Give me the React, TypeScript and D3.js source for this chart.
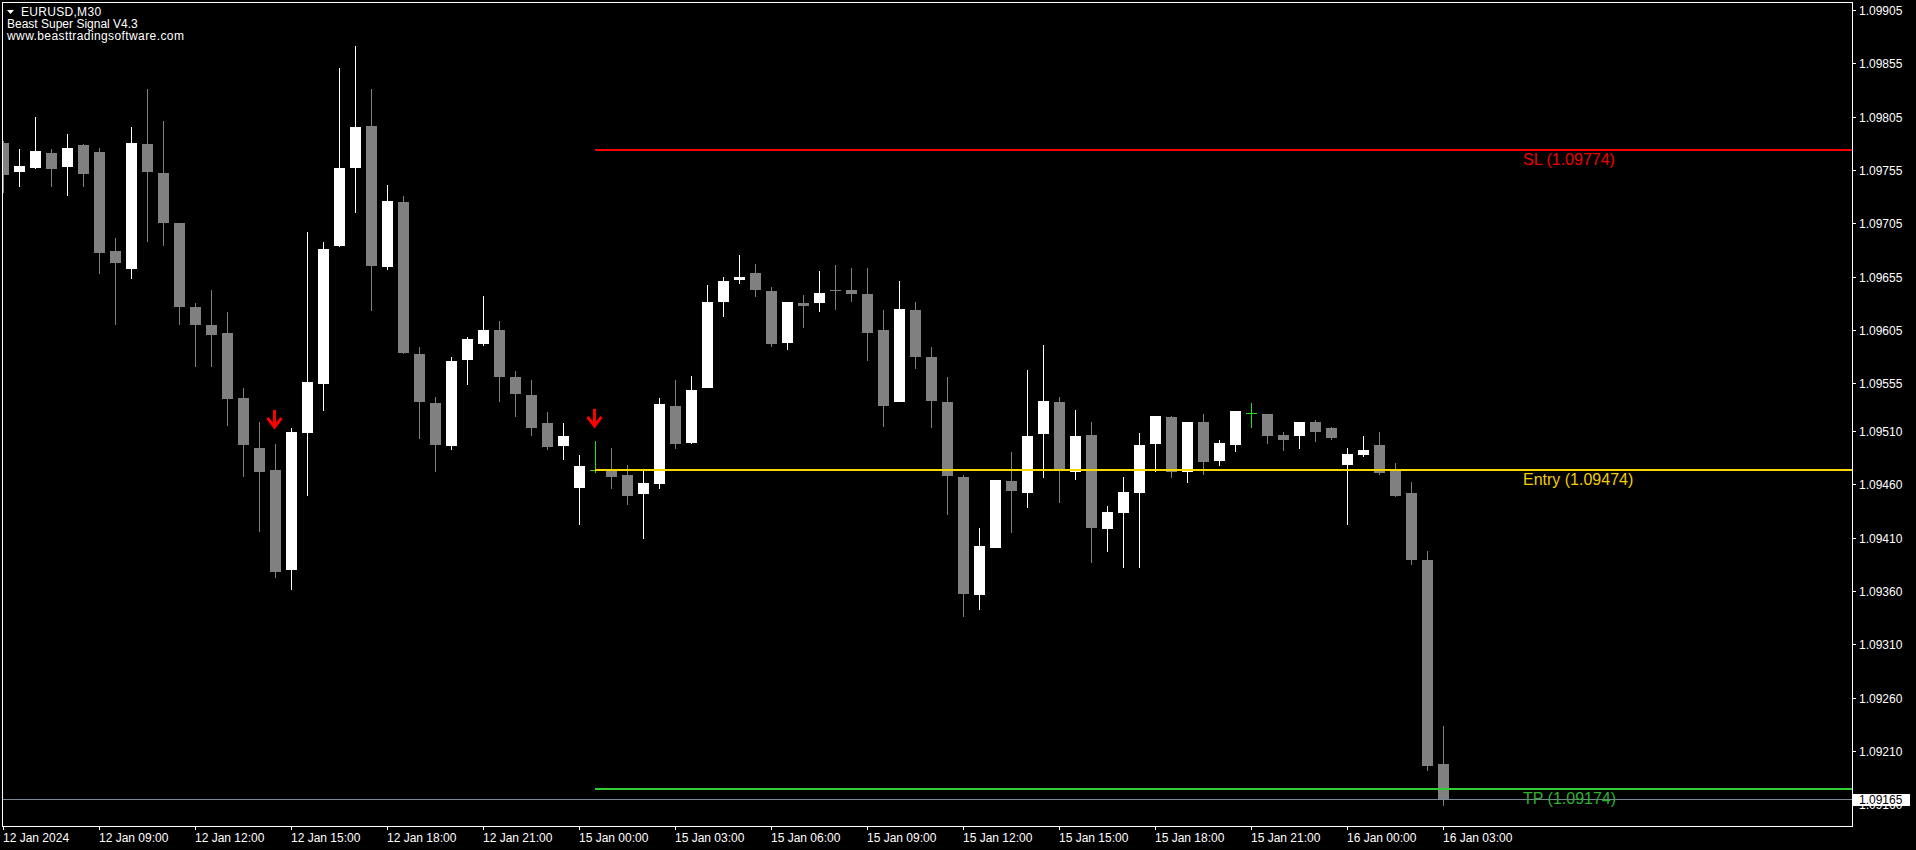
import * as d3 from "d3"

const W = 1916
const H = 850

// OHLC, M30 bars from 12 Jan 06:00 to 16 Jan 03:00
const opens = [
  1.09780, 1.09753, 1.09757, 1.09771, 1.09758, 1.09778, 1.09772, 1.09679, 1.09662, 1.09779,
  1.09752, 1.09705, 1.09626, 1.09610, 1.09602, 1.09541, 1.09494, 1.09474, 1.09380, 1.09508,
  1.09554, 1.09684, 1.09757, 1.09796, 1.09664, 1.09725, 1.09582, 1.09536, 1.09496, 1.09577,
  1.09592, 1.09605, 1.09561, 1.09544, 1.09518, 1.09496, 1.09457, 1.09474, 1.09474, 1.09469,
  1.09451, 1.09460, 1.09534, 1.09499, 1.09550, 1.09631, 1.09652, 1.09658, 1.09641, 1.09593,
  1.09630, 1.09630, 1.09642, 1.09642, 1.09639, 1.09605, 1.09537, 1.09624, 1.09580, 1.09537,
  1.09467, 1.09356, 1.09400, 1.09463, 1.09452, 1.09507, 1.09537, 1.09472, 1.09506, 1.09418,
  1.09433, 1.09452, 1.09498, 1.09523, 1.09472, 1.09519, 1.09482, 1.09497, 1.09527, 1.09526,
  1.09506, 1.09505, 1.09519, 1.09513, 1.09478, 1.09488, 1.09497, 1.09473, 1.09452, 1.09389,
  1.09198,
]
const highs = [
  1.09782, 1.09775, 1.09805, 1.09775, 1.09789, 1.09779, 1.09776, 1.09691, 1.09795, 1.09831,
  1.09801, 1.09705, 1.09630, 1.09642, 1.09622, 1.09550, 1.09519, 1.09498, 1.09513, 1.09697,
  1.09687, 1.09851, 1.09871, 1.09831, 1.09741, 1.09731, 1.09589, 1.09542, 1.09580, 1.09598,
  1.09637, 1.09613, 1.09566, 1.09558, 1.09528, 1.09518, 1.09488, 1.09501, 1.09494, 1.09478,
  1.09474, 1.09541, 1.09558, 1.09562, 1.09647, 1.09655, 1.09675, 1.09667, 1.09645, 1.09631,
  1.09638, 1.09660, 1.09666, 1.09663, 1.09663, 1.09624, 1.09651, 1.09631, 1.09589, 1.09561,
  1.09469, 1.09419, 1.09464, 1.09490, 1.09567, 1.09591, 1.09542, 1.09530, 1.09519, 1.09440,
  1.09467, 1.09508, 1.09524, 1.09524, 1.09519, 1.09526, 1.09502, 1.09529, 1.09536, 1.09526,
  1.09509, 1.09519, 1.09520, 1.09514, 1.09494, 1.09505, 1.09509, 1.09480, 1.09462, 1.09398,
  1.09233,
]
const lows = [
  1.09733, 1.09739, 1.09756, 1.09739, 1.09731, 1.09739, 1.09657, 1.09610, 1.09653, 1.09687,
  1.09684, 1.09610, 1.09570, 1.09570, 1.09515, 1.09467, 1.09415, 1.09372, 1.09361, 1.09449,
  1.09529, 1.09683, 1.09715, 1.09623, 1.09661, 1.09582, 1.09503, 1.09472, 1.09492, 1.09553,
  1.09590, 1.09537, 1.09523, 1.09505, 1.09492, 1.09483, 1.09422, 1.09471, 1.09456, 1.09441,
  1.09409, 1.09456, 1.09493, 1.09498, 1.09550, 1.09617, 1.09648, 1.09636, 1.09589, 1.09586,
  1.09607, 1.09622, 1.09624, 1.09631, 1.09576, 1.09514, 1.09537, 1.09568, 1.09513, 1.09431,
  1.09336, 1.09342, 1.09400, 1.09414, 1.09438, 1.09466, 1.09443, 1.09464, 1.09386, 1.09397,
  1.09382, 1.09382, 1.09472, 1.09466, 1.09461, 1.09469, 1.09477, 1.09490, 1.09513, 1.09498,
  1.09491, 1.09493, 1.09500, 1.09502, 1.09422, 1.09486, 1.09469, 1.09448, 1.09384, 1.09191,
  1.09158,
]
const closes = [
  1.09750, 1.09759, 1.09773, 1.09756, 1.09776, 1.09751, 1.09677, 1.09668, 1.09780, 1.09753,
  1.09705, 1.09626, 1.09610, 1.09600, 1.09540, 1.09497, 1.09472, 1.09378, 1.09509, 1.09556,
  1.09681, 1.09757, 1.09795, 1.09665, 1.09726, 1.09583, 1.09537, 1.09497, 1.09576, 1.09596,
  1.09605, 1.09561, 1.09545, 1.09513, 1.09495, 1.09505, 1.09477, 1.09474, 1.09467, 1.09449,
  1.09461, 1.09535, 1.09498, 1.09549, 1.09631, 1.09651, 1.09655, 1.09642, 1.09592, 1.09631,
  1.09627, 1.09640, 1.09641, 1.09639, 1.09602, 1.09534, 1.09625, 1.09580, 1.09538, 1.09468,
  1.09357, 1.09402, 1.09464, 1.09454, 1.09505, 1.09538, 1.09474, 1.09505, 1.09419, 1.09434,
  1.09453, 1.09497, 1.09524, 1.09472, 1.09519, 1.09481, 1.09499, 1.09529, 1.09527, 1.09505,
  1.09502, 1.09519, 1.09509, 1.09504, 1.09489, 1.09492, 1.09471, 1.09449, 1.09389, 1.09196,
  1.09165,
]

const timeTickBars = [0, 6, 12, 18, 24, 30, 36, 42, 48, 54, 60, 66, 72, 78, 84, 90]
const timeTickLabels = [
  "12 Jan 2024", "12 Jan 09:00", "12 Jan 12:00", "12 Jan 15:00", "12 Jan 18:00", "12 Jan 21:00",
  "15 Jan 00:00", "15 Jan 03:00", "15 Jan 06:00", "15 Jan 09:00", "15 Jan 12:00", "15 Jan 15:00",
  "15 Jan 18:00", "15 Jan 21:00", "16 Jan 00:00", "16 Jan 03:00",
]
const priceTicks = [
  1.09905, 1.09855, 1.09805, 1.09755, 1.09705, 1.09655, 1.09605, 1.09555,
  1.0951, 1.0946, 1.0941, 1.0936, 1.0931, 1.0926, 1.0921, 1.0916,
]

// sell signals (arrow tip price)
const signalBars = [17, 37]
const signalPrices = [1.09512, 1.09513]

const tradeStartBar = 37
const levelNames = ["SL", "Entry", "TP"]
const levelPrices = [1.09774, 1.09474, 1.09174]
const levelColors = ["#ff0000", "#ffd700", "#32cd32"]
const levelTextColors = ["#f00000", "#f2cc00", "#2fb12f"]

const BULL = "#ffffff"
const BEAR = "#808080"
const DOJI = "#22dd22"
const FONT = "'Liberation Sans', Arial, sans-serif"

export default function App() {
  const x = d3.scaleLinear().domain([0, 90]).range([3.5, 1443.5])
  const y = d3.scaleLinear().domain([1.09905, 1.0921]).range([10, 751])
  const py = (v: number) => Math.round(y(v))

  const last = closes[closes.length - 1]
  const lastY = py(last)

  return (
    <div style={{ position: "fixed", left: 0, top: 0, width: W, height: H, background: "#000" }}>
      <svg width={W} height={H} style={{ display: "block" }} fontFamily={FONT}>
        <defs>
          <clipPath id="plot">
            <rect x={3} y={3} width={1849} height={823} />
          </clipPath>
        </defs>
        <rect width={W} height={H} fill="#000" />

        <g clipPath="url(#plot)">
          {/* candles */}
          {opens.map((o, i) => {
            const c = closes[i]
            const cx = x(i)
            const hi = py(highs[i]), lo = py(lows[i])
            if (o === c) {
              const yy = py(o) + 0.5
              return (
                <g key={i} stroke={DOJI} strokeWidth={1}>
                  <line x1={cx} x2={cx} y1={hi} y2={lo} />
                  <line x1={cx - 5.5} x2={cx + 5.5} y1={yy} y2={yy} />
                </g>
              )
            }
            const col = c > o ? BULL : BEAR
            const top = py(Math.max(o, c))
            const bot = py(Math.min(o, c))
            return (
              <g key={i}>
                <line x1={cx} x2={cx} y1={hi} y2={lo} stroke={col} strokeWidth={1} />
                <rect x={cx - 5.5} y={top} width={11} height={Math.max(1, bot - top)} fill={col} />
              </g>
            )
          })}

          {/* bid line */}
          <line x1={3} x2={1852} y1={lastY + 0.5} y2={lastY + 0.5} stroke="#778899" strokeWidth={1} />

          {/* trade levels */}
          {levelPrices.map((p, k) => {
            const yy = py(p)
            return (
              <g key={k}>
                <line x1={x(tradeStartBar) - 0.5} x2={1852} y1={yy} y2={yy} stroke={levelColors[k]} strokeWidth={2} />
                <text x={1523} y={yy + 15} fontSize={16} fill={levelTextColors[k]}>
                  {`${levelNames[k]} (${p.toFixed(5)})`}
                </text>
              </g>
            )
          })}

          {/* signal arrows */}
          {signalBars.map((b, k) => {
            const cx = x(b) - 1
            const tip = y(signalPrices[k])
            return (
              <g key={k} stroke="#ff0000" fill="none" strokeWidth={3}>
                <line x1={cx} x2={cx} y1={tip - 19} y2={tip - 2} />
                <polyline points={`${cx - 7},${tip - 11} ${cx},${tip - 2} ${cx + 7},${tip - 11}`} strokeLinejoin="miter" />
              </g>
            )
          })}
        </g>

        {/* frame */}
        <rect x={2.5} y={2.5} width={1850} height={824} fill="none" stroke="#fff" strokeWidth={1} />

        {/* price axis */}
        {priceTicks.map((v, k) => {
          const yy = py(v)
          return (
            <g key={k}>
              <line x1={1853} x2={1856} y1={yy + 0.5} y2={yy + 0.5} stroke="#fff" />
              <text x={1859} y={yy + 4.5} fontSize={12} fill="#fff">{v.toFixed(5)}</text>
            </g>
          )
        })}
        <rect x={1853} y={lastY - 5} width={57} height={12} fill="#fff" />
        <text x={1859} y={lastY + 4.5} fontSize={12} fill="#000">{last.toFixed(5)}</text>

        {/* time axis */}
        {timeTickBars.map((b, k) => (
          <g key={k}>
            <line x1={x(b)} x2={x(b)} y1={826} y2={830} stroke="#fff" />
            <text x={x(b) - 0.5} y={842} fontSize={12} fill="#fff">{timeTickLabels[k]}</text>
          </g>
        ))}

        {/* header */}
        <path d="M7,10 L14,10 L10.5,14 Z" fill="#fff" />
        <text x={21} y={16} fontSize={12} fill="#fff" letterSpacing={0.3}>EURUSD,M30</text>
        <text x={7} y={27.5} fontSize={12} fill="#fff">Beast Super Signal V4.3</text>
        <text x={7} y={39.5} fontSize={12} fill="#fff" letterSpacing={0.4}>www.beasttradingsoftware.com</text>
      </svg>
    </div>
  )
}
